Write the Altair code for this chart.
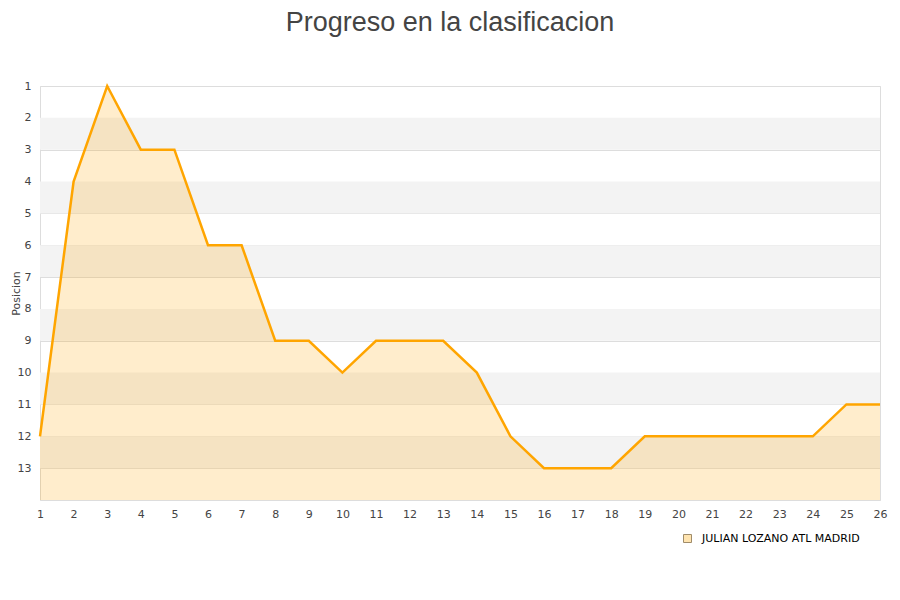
import altair as alt
import pandas as pd

jornadas = list(range(1, 27))
posiciones = [12, 4, 1, 3, 3, 6, 6, 9, 9, 10, 9, 9, 9, 10, 12, 13, 13, 13, 12, 12, 12, 12, 12, 12, 11, 11]
equipo = "JULIAN LOZANO ATL MADRID"
band_starts = [2, 4, 6, 8, 10, 12]

df = pd.DataFrame({"jornada": jornadas, "pos": posiciones, "base": [14] * len(jornadas), "equipo": [equipo] * len(jornadas)})
bands = pd.DataFrame({"y1": band_starts, "y2": [b + 1 for b in band_starts]})

xscale = alt.Scale(domain=[1, 26], nice=False, zero=False)
yscale = alt.Scale(domain=[1, 14], reverse=True, nice=False, zero=False)

xaxis = alt.Axis(values=jornadas, format="d", grid=False, ticks=False, domain=False,
                 labelOverlap=False, labelFlush=False, labelBound=False,
                 labelPadding=8, labelFontSize=11, labelColor="#444444", labelFont="DejaVu Sans", title=None)
yaxis = alt.Axis(values=list(range(1, 15)), format="d", grid=True, gridColor="#dddddd", ticks=False, domain=False,
                 labelOverlap=False, labelFlush=False, labelBound=False,
                 labelPadding=9, labelFontSize=11, labelColor="#444444", labelFont="DejaVu Sans",
                 labelExpr="datum.value == 14 ? '' : datum.label",
                 title="Posicion", titleFontSize=11, titleFont="DejaVu Sans", titleFontWeight="normal",
                 titleColor="#444444", titleX=-19, titleY=207)

X = alt.X("jornada:Q", scale=xscale, axis=xaxis)
Y = alt.Y("pos:Q", scale=yscale, axis=yaxis)

band = alt.Chart(bands).mark_rect(color="#f3f3f3").encode(
    x=alt.value(0), x2=alt.value(840),
    y=alt.Y("y1:Q", scale=yscale, axis=yaxis),
    y2="y2:Q",
)

area = alt.Chart(df).mark_area(color="#FFA500", fillOpacity=0.2, interpolate="linear").encode(
    x=X, y=Y, y2="base:Q",
)

line = alt.Chart(df).mark_line(color="#FFA500", strokeWidth=2.5).encode(x=X, y=Y)

legend_layer = alt.Chart(df.head(1)).mark_square(opacity=0).encode(
    x=X, y=Y,
    fill=alt.Fill("equipo:N", scale=alt.Scale(range=["#FFE4B0"]),
                  legend=alt.Legend(title=None, orient="none", legendX=642, legendY=447,
                                    symbolType="square", symbolSize=64, symbolStrokeColor="#a08c6a",
                                    symbolStrokeWidth=1, symbolOpacity=1, labelFontSize=11,
                                    labelOffset=9,
                                    labelFont="DejaVu Sans", labelColor="#000000")),
)

chart = alt.layer(band, area, line, legend_layer).properties(
    width=840, height=414,
    autosize=alt.AutoSizeParams(type="none"),
    padding={"left": 32, "top": 78, "right": 10, "bottom": 80},
    title=alt.TitleParams("Progreso en la clasificacion", fontSize=27, font="Liberation Sans",
                          fontWeight="normal", color="#444444", anchor="middle", dx=-10, offset=43),
).configure_view(stroke="#dddddd")

chart.save("out.html", embed_options={"renderer": "svg", "actions": False})
